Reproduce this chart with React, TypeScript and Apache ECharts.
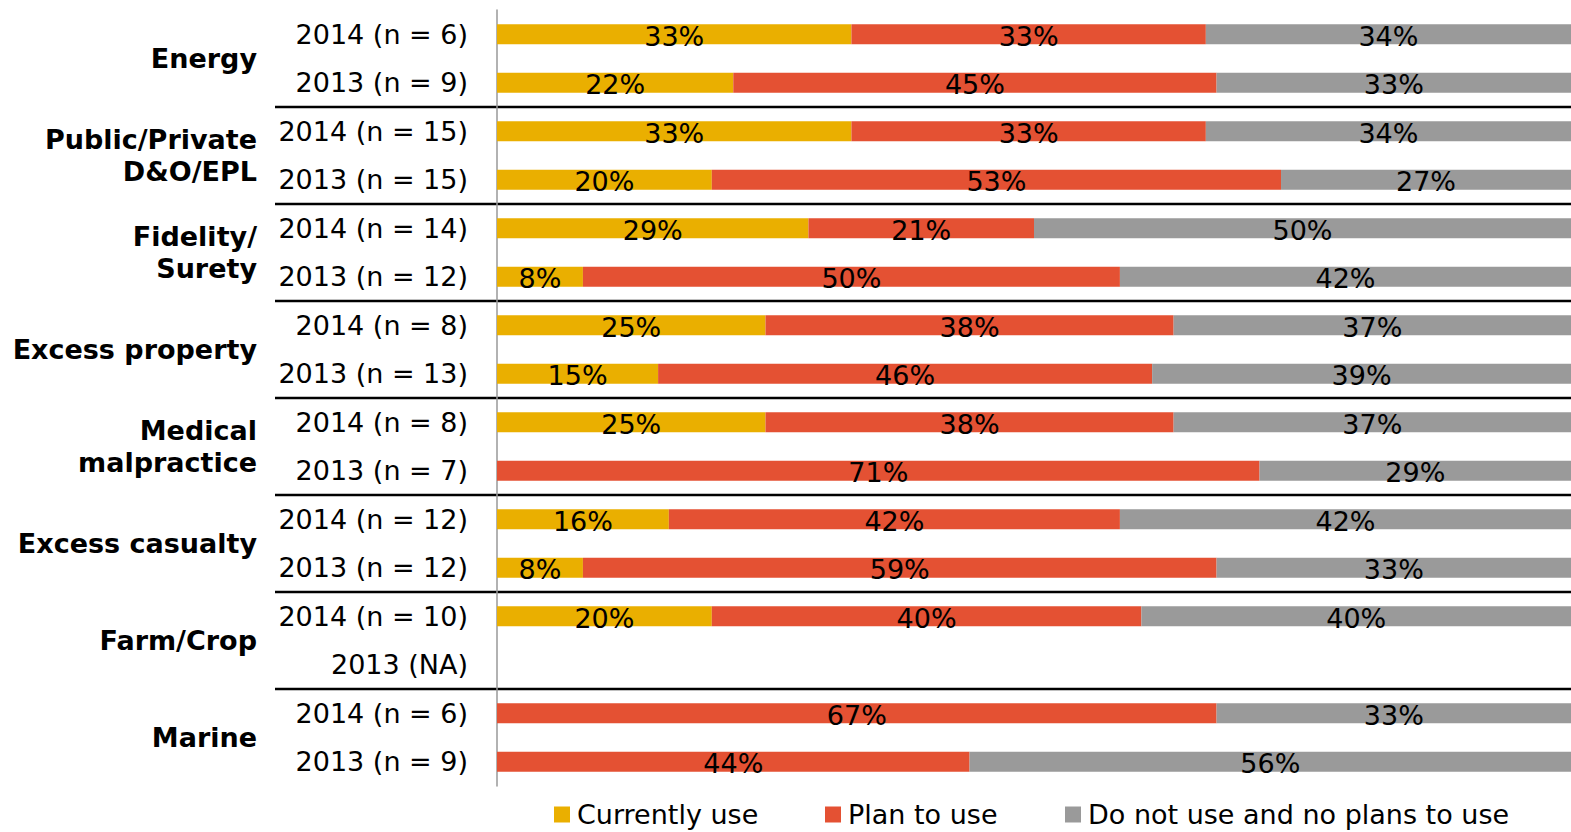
import React, { useEffect, useRef } from "react";
import * as echarts from "echarts";

// Rows, top to bottom: two survey years per line of business
const rowLabels = [
  "2014 (n = 6)", "2013 (n = 9)",
  "2014 (n = 15)", "2013 (n = 15)",
  "2014 (n = 14)", "2013 (n = 12)",
  "2014 (n = 8)", "2013 (n = 13)",
  "2014 (n = 8)", "2013 (n = 7)",
  "2014 (n = 12)", "2013 (n = 12)",
  "2014 (n = 10)", "2013 (NA)",
  "2014 (n = 6)", "2013 (n = 9)",
];

const groupLabels = [
  "Energy",
  "Public/Private\nD&O/EPL",
  "Fidelity/\nSurety",
  "Excess property",
  "Medical\nmalpractice",
  "Excess casualty",
  "Farm/Crop",
  "Marine",
];

const seriesNames = ["Currently use", "Plan to use", "Do not use and no plans to use"];

// Percentages per row (null = no segment)
const currentlyUse = [33, 22, 33, 20, 29, 8, 25, 15, 25, null, 16, 8, 20, null, null, null];
const planToUse = [33, 45, 33, 53, 21, 50, 38, 46, 38, 71, 42, 59, 40, null, 67, 44];
const noPlans = [34, 33, 34, 27, 50, 42, 37, 39, 37, 29, 42, 33, 40, null, 33, 56];

const colors = ["#EAAF00", "#E45133", "#9A9A9A"];
const FONT = "DejaVu Sans";

// Horizontal start of each legend entry
const legendLefts = [549, 820, 1060];

export default function App() {
  const ref = useRef<HTMLDivElement>(null);

  useEffect(() => {
    if (!ref.current) return;
    const chart = echarts.init(ref.current, undefined, { renderer: "svg" });

    const seriesData = [currentlyUse, planToUse, noPlans];

    chart.setOption({
      animation: false,
      backgroundColor: "#fff",
      textStyle: { fontFamily: FONT },
      grid: { left: 497, right: 0, top: 10, bottom: 46 },
      legend: seriesNames.map((name, i) => ({
        data: [name],
        left: legendLefts[i],
        top: 796,
        icon: "rect",
        itemWidth: 16,
        itemHeight: 16,
        selectedMode: false,
        textStyle: { fontSize: 27, color: "#000", fontFamily: FONT, padding: [0, 0, 0, 2] },
      })),
      xAxis: {
        type: "value",
        min: 0,
        max: 100,
        show: false,
      },
      yAxis: [
        {
          type: "category",
          data: rowLabels,
          inverse: true,
          axisLine: { show: true, lineStyle: { color: "#999", width: 1.5 } },
          axisTick: { show: false },
          splitLine: { show: false },
          axisLabel: { fontSize: 27, color: "#000", margin: 29, fontFamily: FONT },
        },
        {
          type: "category",
          data: groupLabels,
          inverse: true,
          position: "left",
          offset: 240,
          axisLine: { show: false },
          axisTick: { show: false },
          splitLine: { show: false },
          axisLabel: {
            fontSize: 27,
            fontWeight: "bold",
            lineHeight: 32,
            color: "#000",
            margin: 0,
            fontFamily: FONT,
          },
        },
      ],
      series: seriesNames.map((name, i) => ({
        name,
        type: "bar",
        stack: "total",
        yAxisIndex: 0,
        barWidth: 20,
        data: seriesData[i],
        itemStyle: { color: colors[i] },
        label: {
          show: true,
          position: "inside",
          formatter: "{c}%",
          fontSize: 27,
          color: "#000",
          fontFamily: FONT,
          offset: [0, 2],
        },
        emphasis: { disabled: true },
      })),
    });

    // Group separators: halfway between the last row of one group and the first of the next
    const rightX = chart.convertToPixel({ xAxisIndex: 0 }, 100) as number;
    const lines = [];
    for (let g = 1; g < groupLabels.length; g++) {
      const a = chart.convertToPixel({ yAxisIndex: 0 }, 2 * g - 1) as number;
      const b = chart.convertToPixel({ yAxisIndex: 0 }, 2 * g) as number;
      const y = (a + b) / 2;
      lines.push({
        type: "line",
        silent: true,
        shape: { x1: 275, y1: y, x2: rightX, y2: y },
        style: { stroke: "#000", lineWidth: 2.5 },
      });
    }
    chart.setOption({ graphic: lines });

    return () => chart.dispose();
  }, []);

  return (
    <div
      ref={ref}
      style={{ position: "fixed", left: 0, top: 0, width: 1571, height: 832 }}
    />
  );
}
